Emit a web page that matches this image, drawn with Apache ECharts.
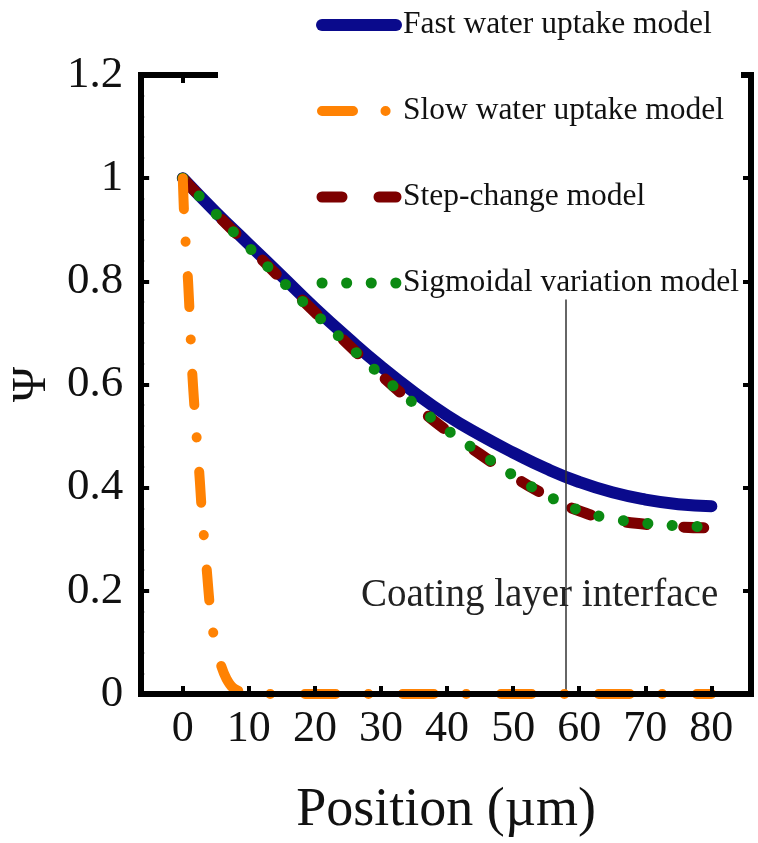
<!DOCTYPE html>
<html>
<head>
<meta charset="utf-8">
<script src="https://cdn.jsdelivr.net/npm/echarts@6/dist/echarts.min.js"></script>
<style>
  html, body { margin: 0; padding: 0; background: #ffffff; }
  #chart { width: 758px; height: 843px; }
</style>
</head>
<body>
<div id="chart"></div>
<script>
// Position through the coating (µm) and dimensionless water content Ψ
const positions = [0, 5, 10, 15, 20, 25, 30, 35, 40, 45, 50, 55, 60, 65, 70, 75, 80];
const fastUptake = [1.0, 0.934, 0.872, 0.81, 0.748, 0.69, 0.635, 0.585, 0.54, 0.502, 0.468, 0.437, 0.411, 0.391, 0.377, 0.368, 0.364];
const stepChange = [1.0, 0.932, 0.868, 0.803, 0.74, 0.678, 0.618, 0.562, 0.51, 0.465, 0.422, 0.385, 0.355, 0.338, 0.329, 0.324, 0.322];
const sigmoidal  = [1.0, 0.931, 0.866, 0.801, 0.738, 0.677, 0.618, 0.563, 0.512, 0.467, 0.424, 0.386, 0.356, 0.34, 0.331, 0.326, 0.324];

const slowPositions = [0, 0.2, 0.5, 0.8, 1.1, 1.4, 1.8, 2.2, 2.6, 2.9, 3.3, 3.7, 4.1, 4.6, 5.1, 5.8, 6.6, 7.6, 9, 10, 20, 30, 40, 50, 60, 70, 80];
const slowUptake    = [1.0, 0.93, 0.86, 0.8, 0.72, 0.63, 0.55, 0.48, 0.41, 0.35, 0.29, 0.23, 0.17, 0.12, 0.09, 0.055, 0.03, 0.012, 0.003, 0, 0, 0, 0, 0, 0, 0, 0];

const xTickValues = [0, 10, 20, 30, 40, 50, 60, 70, 80];
const interfacePosition = 58;
const interfaceLineTop = 0.765;
const interfaceLabelAt = [54, 0.19];

const seriesNames = ['Fast water uptake model', 'Slow water uptake model', 'Step-change model', 'Sigmoidal variation model'];

const zip = (xs, ys) => xs.map((x, i) => [x, ys[i]]);
const SERIF = "'Liberation Serif', 'DejaVu Serif', serif";

const frameAxisLine = { show: true, onZero: false, lineStyle: { color: '#000', width: 6, cap: 'square' } };
const frameTick = { show: true, inside: true, length: 8, lineStyle: { color: '#000', width: 4 } };

const chart = echarts.init(document.getElementById('chart'), null, { renderer: 'canvas' });

chart.setOption({
  animation: false,
  backgroundColor: '#ffffff',
  grid: { left: 138, right: 7, top: 75, bottom: 149, containLabel: false },
  legend: {
    orient: 'vertical',
    left: 311,
    top: 4,
    itemWidth: 74,
    itemHeight: 12,
    itemGap: 54,
    data: seriesNames,
    itemStyle: { opacity: 0 },
    lineStyle: { width: 'inherit' },
    textStyle: { fontFamily: SERIF, fontSize: 31.5, color: '#111', lineHeight: 32, padding: [0, 0, 0, 2] },
    selectedMode: false
  },
  xAxis: [
    {
      type: 'value', position: 'bottom', min: -6.3, max: 86, z: 10,
      axisLine: frameAxisLine,
      axisTick: Object.assign({}, frameTick, { customValues: xTickValues }),
      axisLabel: { customValues: xTickValues, fontFamily: SERIF, fontSize: 44, color: '#111', margin: 13 },
      splitLine: { show: false },
      name: 'Position (µm)', nameLocation: 'middle', nameGap: 90,
      nameTextStyle: { fontFamily: SERIF, fontSize: 54, color: '#111' }
    },
    {
      type: 'value', position: 'top', min: -6.3, max: 86,
      axisLine: frameAxisLine,
      axisTick: Object.assign({}, frameTick, { customValues: xTickValues }),
      axisLabel: { show: false },
      splitLine: { show: false }
    }
  ],
  yAxis: [
    {
      type: 'value', position: 'left', min: 0, max: 1.2, interval: 0.2, z: 10,
      axisLine: frameAxisLine,
      axisTick: frameTick,
      minorTick: { show: true, splitNumber: 5, length: 3, lineStyle: { color: '#000', width: 2 } },
      axisLabel: { fontFamily: SERIF, fontSize: 45, color: '#111', margin: 18, formatter: v => String(parseFloat(v.toFixed(1))) },
      splitLine: { show: false },
      name: 'Ψ', nameLocation: 'middle', nameRotate: 90, nameGap: 83,
      nameTextStyle: { fontFamily: SERIF, fontSize: 48, color: '#111' }
    },
    {
      type: 'value', position: 'right', min: 0, max: 1.2, interval: 0.2,
      axisLine: frameAxisLine,
      axisTick: frameTick,
      minorTick: { show: true, splitNumber: 5, length: 3, lineStyle: { color: '#000', width: 2 } },
      axisLabel: { show: false },
      splitLine: { show: false }
    }
  ],
  graphic: [
    // white gap in the top frame behind the legend
    { type: 'rect', shape: { x: 218, y: 62, width: 523, height: 26 }, style: { fill: '#ffffff' }, z: 200 }
  ],
  series: [
    {
      name: seriesNames[0], type: 'line', data: zip(positions, fastUptake),
      smooth: 0.5, showSymbol: false, symbol: 'none', z: 2,
      lineStyle: { color: '#0a0a8c', width: 12, cap: 'round' },
      itemStyle: { color: '#0a0a8c' },
      markLine: {
        silent: true, symbol: 'none', animation: false,
        lineStyle: { color: '#333', width: 1.5, type: 'solid' },
        label: { show: false },
        data: [[{ coord: [interfacePosition, 0] }, { coord: [interfacePosition, interfaceLineTop] }]]
      },
      markPoint: {
        silent: true, symbol: 'circle', symbolSize: 0, animation: false,
        data: [{
          coord: interfaceLabelAt,
          label: { show: true, position: 'inside', formatter: 'Coating layer interface', fontFamily: SERIF, fontSize: 39, color: '#222' }
        }]
      }
    },
    {
      name: seriesNames[2], type: 'line', data: zip(positions, stepChange),
      smooth: 0.5, showSymbol: false, symbol: 'none', z: 3,
      lineStyle: { color: '#7d0000', width: 11, cap: 'round', type: [20, 37] },
      itemStyle: { color: '#7d0000' }
    },
    {
      name: seriesNames[3], type: 'line', data: zip(positions, sigmoidal),
      smooth: 0.5, showSymbol: false, symbol: 'none', z: 4,
      lineStyle: { color: '#0b8a12', width: 11, cap: 'round', type: [0.1, 24.5] },
      itemStyle: { color: '#0b8a12' }
    },
    {
      name: seriesNames[1], type: 'line', data: zip(slowPositions, slowUptake),
      smooth: 0.3, showSymbol: false, symbol: 'none', z: 5,
      lineStyle: { color: '#ff8203', width: 10, cap: 'round', type: [31, 32.5, 0.1, 34.4] },
      itemStyle: { color: '#ff8203' }
    }
  ]
});
</script>
</body>
</html>
